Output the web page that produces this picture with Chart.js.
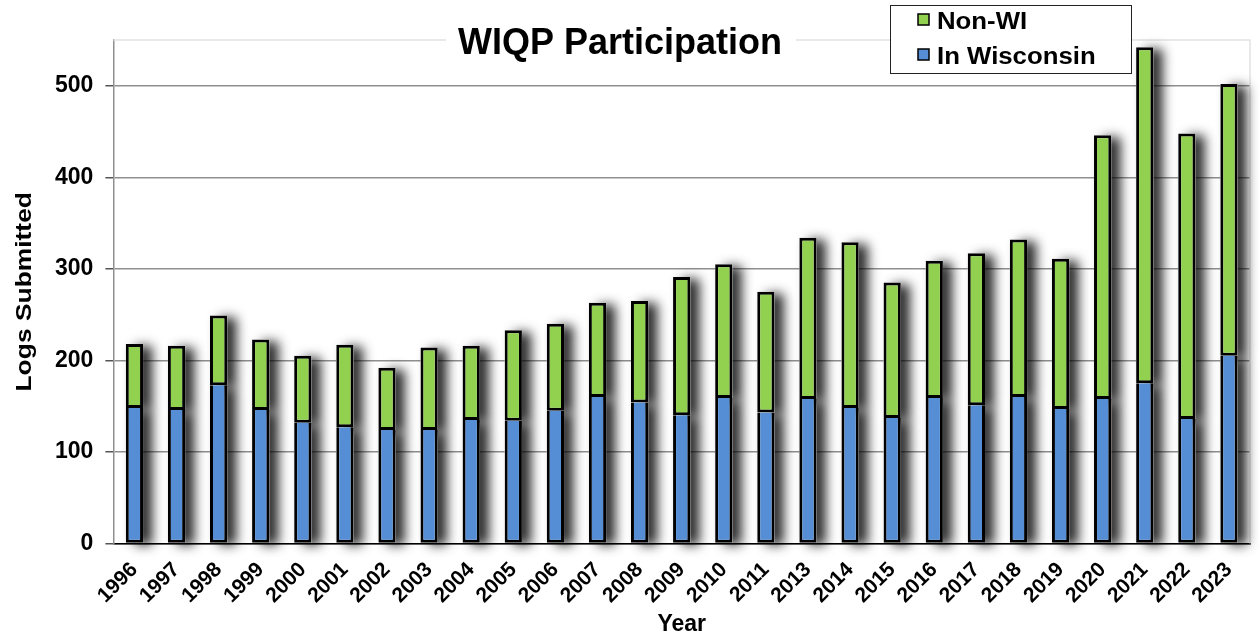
<!DOCTYPE html>
<html>
<head>
<meta charset="utf-8">
<script src="https://cdn.jsdelivr.net/npm/chart.js@4.4.0/dist/chart.umd.min.js"></script>
<style>
  html, body { margin: 0; padding: 0; background: #fff; }
  #wrap { width: 1259px; height: 635px; position: relative; }
</style>
</head>
<body>
<div id="wrap"><canvas id="wiqp"></canvas></div>
<script>
// Data
var years = ["1996", "1997", "1998", "1999", "2000", "2001", "2002", "2003", "2004",
    "2005", "2006", "2007", "2008", "2009", "2010", "2011", "2013", "2014", "2015",
    "2016", "2017", "2018", "2019", "2020", "2021", "2022", "2023"];
var inWisconsin = [148, 146, 173, 146, 132, 127, 124, 124, 135, 134, 145, 160, 154, 140,
    159, 143, 158, 148, 137, 159, 151, 160, 147, 158, 175, 136, 205];
var nonWI = [70, 70, 76, 77, 73, 90, 68, 90, 81, 99, 95, 103, 111, 151, 146, 132, 176,
    181, 148, 150, 166, 172, 164, 288, 367, 312, 297];
var yTicks = [0, 100, 200, 300, 400, 500];

var FONT = "'Liberation Sans', Arial, sans-serif";
var BLUE = "#558ED5";
var GREEN = "#92D050";

// draws text stretched along its own direction
function stretchText(ctx, text, x, y, sx, angle) {
    ctx.save();
    ctx.translate(x, y);
    if (angle) ctx.rotate(angle);
    ctx.scale(sx, 1);
    ctx.fillText(text, 0, 0);
    ctx.restore();
}

// Soft drop shadow behind each bar stack
var shadowPlugin = {
    id: "barShadow",
    beforeDatasetsDraw: function (chart) {
        var ctx = chart.ctx;
        ctx.save();
        ctx.shadowColor = "rgba(0,0,0,0.85)";
        ctx.shadowBlur = 12;
        ctx.shadowOffsetX = 9;
        ctx.shadowOffsetY = 2;
        ctx.fillStyle = "#fff";
        chart.data.datasets.forEach(function (ds, i) {
            chart.getDatasetMeta(i).data.forEach(function (bar) {
                var p = bar.getProps(["x", "y", "base", "width"], true);
                var top = Math.min(p.y, p.base);
                ctx.fillRect(p.x - p.width / 2, top, p.width, Math.abs(p.base - p.y));
            });
        });
        ctx.restore();
    }
};

// Plot frame, title, y-axis title and boxed legend
var decorPlugin = {
    id: "decor",
    beforeDatasetsDraw: function (chart) {
        var a = chart.chartArea, ctx = chart.ctx;
        ctx.save();
        ctx.strokeStyle = "#e2e2e2";
        ctx.lineWidth = 1.5;
        ctx.beginPath();
        ctx.moveTo(a.left, a.top);
        ctx.lineTo(a.right, a.top);
        ctx.lineTo(a.right, a.bottom);
        ctx.stroke();
        ctx.restore();
    },
    afterDraw: function (chart) {
        var ctx = chart.ctx, a = chart.chartArea;
        ctx.save();
        ctx.fillStyle = "#000";
        ctx.textBaseline = "alphabetic";

        // y axis title
        ctx.font = "bold 22px " + FONT;
        ctx.textAlign = "center";
        stretchText(ctx, "Logs Submitted", 31, (a.top + a.bottom) / 2, 1.2, -Math.PI / 2);

        // chart title on a white patch over the frame
        ctx.fillStyle = "#fff";
        ctx.fillRect(446, 28, 350, 30);
        ctx.fillStyle = "#000";
        ctx.font = "bold 36px " + FONT;
        ctx.fillText("WIQP Participation", 620, 54);

        // legend box
        ctx.fillStyle = "#fff";
        ctx.fillRect(890, 5, 241, 68);
        ctx.strokeStyle = "#222";
        ctx.lineWidth = 1;
        ctx.strokeRect(890.5, 5.5, 241, 68);
        var items = [["Non-WI", GREEN], ["In Wisconsin", BLUE]];
        for (var i = 0; i < items.length; i++) {
            var base = 29 + i * 35;
            ctx.fillStyle = items[i][1];
            ctx.fillRect(918, base - 15, 11, 11);
            ctx.strokeStyle = "#000";
            ctx.lineWidth = 1.5;
            ctx.strokeRect(918, base - 15, 11, 11);
            ctx.fillStyle = "#000";
            ctx.font = "bold 23px " + FONT;
            ctx.textAlign = "left";
            stretchText(ctx, items[i][0], 937, base, 1.12, 0);
        }
        ctx.restore();
    }
};

var ctx = document.getElementById("wiqp");

var chartData = {
    labels: years,
    datasets: [
        {
            label: "In Wisconsin",
            data: inWisconsin,
            backgroundColor: BLUE,
            borderColor: "#000",
            borderWidth: { left: 3, right: 3, bottom: 3, top: 0 },
            borderSkipped: false,
            barPercentage: 0.41,
            categoryPercentage: 1
        },
        {
            label: "Non-WI",
            data: nonWI,
            backgroundColor: GREEN,
            borderColor: "#000",
            borderWidth: 3,
            borderSkipped: false,
            barPercentage: 0.41,
            categoryPercentage: 1
        }
    ]
};

var chartOptions = {
    responsive: true,
    maintainAspectRatio: false,
    animation: false,
    layout: { padding: { top: 40, right: 9, left: 43, bottom: 0 } },
    plugins: {
        legend: { display: false },
        title: { display: false },
        tooltip: { enabled: false }
    },
    scales: {
        x: {
            stacked: true,
            grid: { display: false },
            border: { display: true, color: "#000", width: 1.5 },
            ticks: {
                color: "#000",
                font: { family: FONT, size: 21, weight: "bold" },
                minRotation: 45,
                maxRotation: 45,
                autoSkip: false,
                padding: 6
            },
            title: {
                display: true,
                text: "Year",
                color: "#000",
                font: { family: FONT, size: 23, weight: "bold" },
                padding: { top: -4, bottom: -3 }
            }
        },
        y: {
            stacked: true,
            min: 0,
            max: 550,
            afterBuildTicks: function (scale) {
                scale.ticks = yTicks.map(function (v) { return { value: v }; });
            },
            grid: {
                color: "#8f8f8f",
                lineWidth: 1.5,
                drawTicks: true,
                tickLength: 8,
                tickColor: "#555"
            },
            border: { display: true, color: "#8f8f8f", width: 1.5 },
            ticks: {
                color: "#000",
                font: { family: FONT, size: 23, weight: "bold" },
                padding: 12
            }
        }
    }
};

var config = {
    type: "bar",
    data: chartData,
    options: chartOptions,
    plugins: [decorPlugin, shadowPlugin]
};

var wiqpChart = new Chart(ctx, config);
</script>
</body>
</html>
